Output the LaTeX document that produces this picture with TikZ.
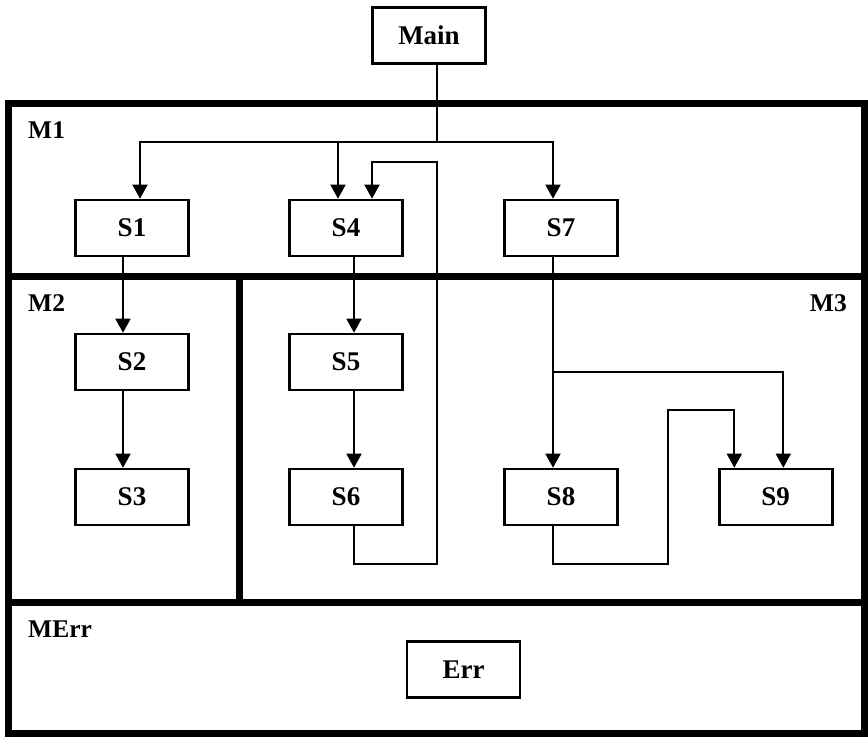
\documentclass[tikz,border=0pt]{standalone}
\usepackage{fontspec}
\setmainfont{Liberation Serif}
\usetikzlibrary{arrows.meta}
\begin{document}
\begin{tikzpicture}[x=1pt,y=-1pt,
  box/.style={draw,line width=2.6pt,minimum width=113pt,minimum height=56pt,inner sep=0pt,
    font=\fontsize{27}{30}\selectfont\bfseries},
  lbl/.style={inner sep=0pt,font=\fontsize{25.5}{30}\selectfont\bfseries},
  conn/.style={line width=1.8pt},
  arr/.style={conn,-{Triangle[length=14pt,width=15pt]}},
  frame/.style={line width=7pt}]
\useasboundingbox (0,0) rectangle (868,737);
% frames
\draw[frame] (8,103.5) rectangle (864.5,733.5);
\draw[frame] (8,276) -- (864.5,276);
\draw[frame] (8,602.5) -- (864.5,602.5);
\draw[frame] (239.5,276) -- (239.5,602.5);
% labels
\node[lbl,anchor=base west] (lM1) at (28,138) {M1};
\node[lbl,anchor=base west] (lM2) at (28,311) {M2};
\node[lbl,anchor=base east] (lM3) at (847,311) {M3};
\node[lbl,anchor=base west] (lME) at (28,637) {MErr};
% boxes
\node[box] (Main) at (429,35.5) {Main};
\node[box] (S1) at (132,228) {S1};
\node[box] (S4) at (346,228) {S4};
\node[box] (S7) at (561,228) {S7};
\node[box] (S2) at (132,362) {S2};
\node[box] (S5) at (346,362) {S5};
\node[box] (S3) at (132,497) {S3};
\node[box] (S6) at (346,497) {S6};
\node[box] (S8) at (561,497) {S8};
\node[box] (S9) at (775.7,497) {S9};
\node[box] (Err) at (463.5,669.5) {Err};
% connectors
\coordinate (J) at (437,141.7);
\draw[conn] ([xshift=8pt]Main.south) -- (J);
\draw[arr] (J) -| ([xshift=8pt]S1.north);
\draw[arr] (J) -| ([xshift=-8pt]S4.north);
\draw[arr] (J) -| ([xshift=-8pt]S7.north);
\draw[arr] ([xshift=-9pt]S1.south) -- ([xshift=-9pt]S2.north);
\draw[arr] ([xshift=-9pt]S2.south) -- ([xshift=-9pt]S3.north);
\draw[arr] ([xshift=8pt]S4.south) -- ([xshift=8pt]S5.north);
\draw[arr] ([xshift=8pt]S5.south) -- ([xshift=8pt]S6.north);
\coordinate (L1) at (437,564);
\coordinate (L2) at (437,162);
\draw[arr] ([xshift=8pt]S6.south) |- (L1) -- (L2) -| ([xshift=26pt]S4.north);
\draw[arr] ([xshift=-8pt]S7.south) -- ([xshift=-8pt]S8.north);
\coordinate (B) at (552.7,371.7);
\draw[arr] (B) -| ([xshift=7.6pt]S9.north);
\coordinate (C1) at (667.7,564);
\coordinate (C2) at (667.7,410);
\draw[arr] ([xshift=-8pt]S8.south) |- (C1) -- (C2) -| ([xshift=-41.4pt]S9.north);
\end{tikzpicture}
\end{document}
